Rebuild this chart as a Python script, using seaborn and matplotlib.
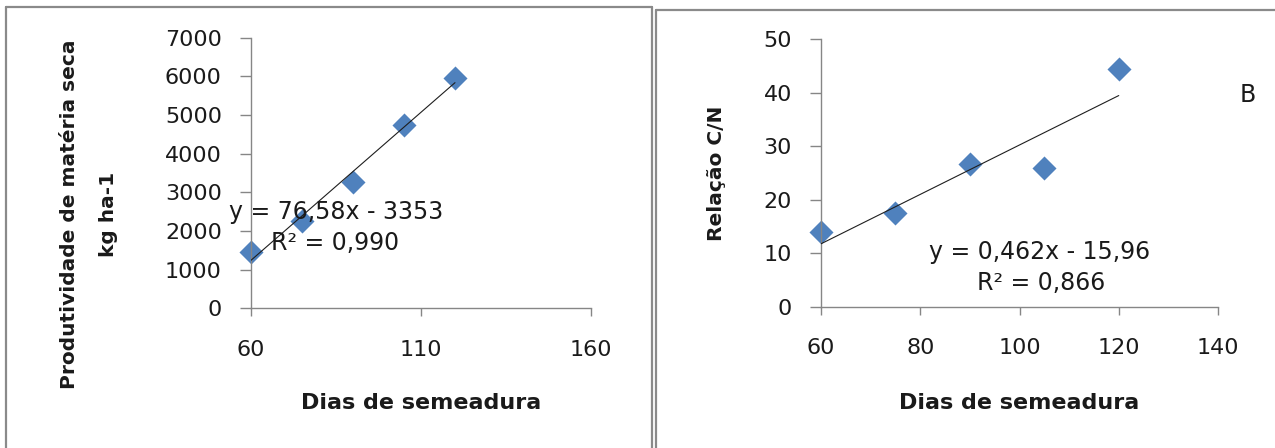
import matplotlib
matplotlib.use("Agg")
import matplotlib.pyplot as plt
from matplotlib.lines import Line2D
import numpy as np
import pandas as pd
import seaborn as sns

# Sowing days shared by both panels
dias = [60, 75, 90, 105, 120]

# Panel A: dry matter yield (kg ha-1)
materia_seca = [1460, 2270, 3270, 4740, 5960]
coef_a = [76.58, -3353]
eq_a = ["y = 76,58x - 3353", "R² = 0,990"]

# Panel B: C/N ratio
relacao_cn = [13.9, 17.5, 26.6, 26.0, 44.4]
coef_b = [0.462, -15.96]
eq_b = ["y = 0,462x - 15,96", "R² = 0,866"]

xticks_a = [60, 110, 160]
yticks_a = [0, 1000, 2000, 3000, 4000, 5000, 6000, 7000]
xticks_b = [60, 80, 100, 120, 140]
yticks_b = [0, 10, 20, 30, 40, 50]

sns.set_theme(style="white")
plt.rcParams["font.family"] = ["DejaVu Sans"]

W, H = 1275, 448
fig = plt.figure(figsize=(W / 100, H / 100), dpi=100)

AXIS_GREY = "#868686"
MARKER_BLUE = "#4F81BD"
TEXT = "#1a1a1a"


def px_axes(x0, y0, x1, y1):
    """Axes rectangle from pixel corners (top-left origin)."""
    return fig.add_axes([x0 / W, 1 - y1 / H, (x1 - x0) / W, (y1 - y0) / H])


def style_axes(ax, xlim, ylim, xticks, yticks):
    ax.set_xlim(*xlim)
    ax.set_ylim(*ylim)
    ax.set_xticks(xticks)
    ax.set_yticks(yticks)
    for side in ("top", "right"):
        ax.spines[side].set_visible(False)
    for side in ("left", "bottom"):
        ax.spines[side].set_color(AXIS_GREY)
        ax.spines[side].set_linewidth(1.0)
    ax.tick_params(axis="x", direction="out", length=5.8, width=1.0,
                   color=AXIS_GREY, pad=17, labelsize=16, labelcolor=TEXT,
                   bottom=True)
    ax.tick_params(axis="y", direction="out", length=8, width=1.0,
                   color=AXIS_GREY, pad=13, labelsize=16, labelcolor=TEXT,
                   left=True)
    ax.set_facecolor("white")
    ax.grid(False)


def draw_panel(ax, y, coef):
    df = pd.DataFrame({"dias": dias, "valor": y})
    xs = np.array([min(dias), max(dias)], dtype=float)
    trend = pd.DataFrame({"dias": xs, "valor": coef[0] * xs + coef[1]})
    sns.scatterplot(data=df, x="dias", y="valor", ax=ax, marker="D", s=150,
                    color=MARKER_BLUE, edgecolor=MARKER_BLUE, linewidth=0,
                    zorder=2, clip_on=False)
    sns.lineplot(data=trend, x="dias", y="valor", ax=ax, color="#1e1e1e",
                 linewidth=0.8, zorder=3)


# ---- Panel A ----
ax1 = px_axes(251, 37.7, 591, 308.3)
draw_panel(ax1, materia_seca, coef_a)
style_axes(ax1, (60, 160), (0, 7000), xticks_a, yticks_a)
ax1.set_xlabel("Dias de semeadura", fontsize=16, fontweight="bold",
               color=TEXT, va="center")
ax1.xaxis.set_label_coords(0.5, -0.35)
ax1.set_ylabel("Produtividade de matéria seca\nkg ha-1", fontsize=14.5,
               fontweight="bold", color=TEXT, va="center", linespacing=2.3,
               multialignment="center")
ax1.yaxis.set_label_coords(-0.477, 0.347)
ax1.text(85, 2490, eq_a[0], fontsize=17, color=TEXT, ha="center",
         va="center", zorder=4)
ax1.text(84.7, 1690, eq_a[1], fontsize=17, color=TEXT, ha="center",
         va="center", zorder=4)

# ---- Panel B ----
ax2 = px_axes(821, 39.3, 1218, 306.7)
draw_panel(ax2, relacao_cn, coef_b)
style_axes(ax2, (60, 140), (0, 50), xticks_b, yticks_b)
ax2.set_xlabel("Dias de semeadura", fontsize=16, fontweight="bold",
               color=TEXT, va="center")
ax2.xaxis.set_label_coords(0.5, -0.36)
ax2.set_ylabel("Relação C/N", fontsize=14.5, fontweight="bold", color=TEXT,
               va="center")
ax2.yaxis.set_label_coords(-0.262, 0.5)
ax2.text(104.1, 10.2, eq_b[0], fontsize=17, color=TEXT, ha="center",
         va="center", zorder=4)
ax2.text(104.3, 4.4, eq_b[1], fontsize=17, color=TEXT, ha="center",
         va="center", zorder=4)
ax2.text(146.0, 39.6, "B", fontsize=17, color=TEXT, ha="center",
         va="center", clip_on=False)

# ---- Panel frames ----
FRAME = "#8a8a8a"


def fig_line(xs, ys):
    fig.add_artist(Line2D([x / W for x in xs], [1 - y / H for y in ys],
                          color=FRAME, linewidth=1.6,
                          transform=fig.transFigure))


fig_line([6, 6], [7, H + 5])
fig_line([6, 652], [7, 7])
fig_line([652, 652], [7, H + 5])
fig_line([656, 656], [10, H + 5])
fig_line([656, W + 5], [10, 10])

fig.savefig("out.png", dpi=100, facecolor="white")
